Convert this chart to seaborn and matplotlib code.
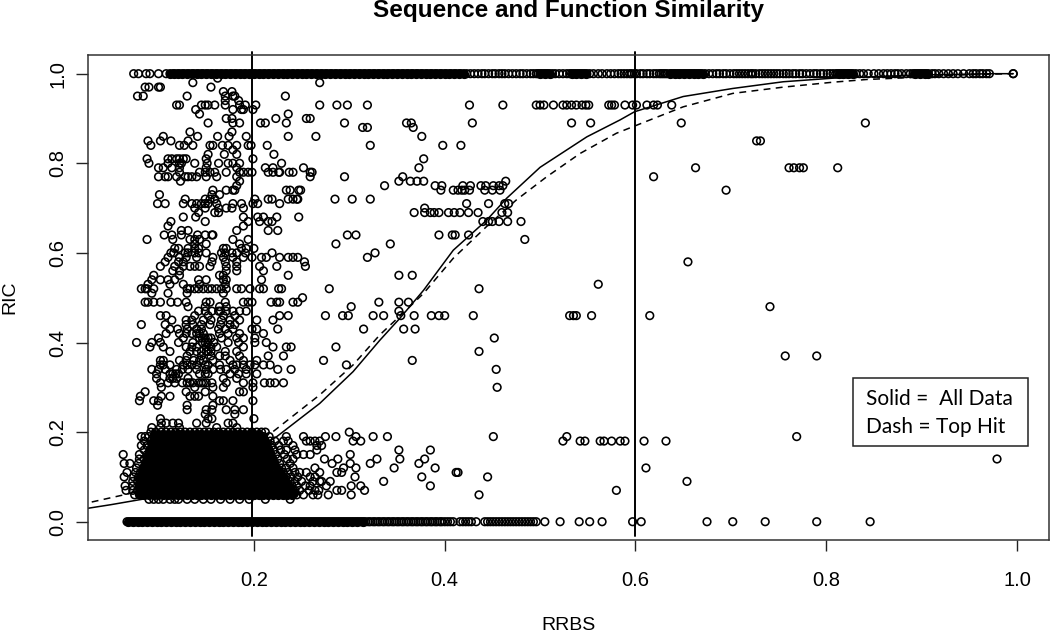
#!/usr/bin/env python3
import matplotlib
matplotlib.use("Agg")
import matplotlib.pyplot as plt
import pandas as pd
import seaborn as sns
from matplotlib.patches import Rectangle

# RRBS values in thousandths, one list per RIC level (ric_93 -> RIC 0.93)
ric_100 = [74,79,87,91,100,108,112,115,117,120,122,125,127,130,132,135,137,140,142,145,147,150,152,155,157,160,162,165,167,170,172,175,177,180,182,185,187,190,192,195,197,200,202,205,207,210,212,215,217,220,222,225,227,230,232,235,237,240,242,245,247,250,252,255,257,260,262,265,267,270,272,275,277,280,282,285,287,290,292,295,297,300,302,305,307,310,312,315,317,320,322,325,327,330,332,335,337,340,342,345,347,350,352,355,357,360,362,365,367,370,372,375,377,380,382,385,387,390,392,395,397,400,402,405,407,410,412,415,417,420,
           423,427,431,435,439,442,446,450,453,457,460,463,467,471,475,479,482,486,490,493,496,498,500,502,504,506,508,510,513,516,520,524,528,531,533,535,537,539,541,543,545,547,549,552,556,561,565,570,574,578,582,585,588,591,594,596,599,601,605,608,612,615,619,622,625,627,629,631,633,636,638,640,642,644,646,648,650,652,654,656,658,660,662,664,666,668,670,673,677,681,685,688,692,695,699,703,706,709,712,715,718,721,723,726,730,733,736,739,742,745,748,751,755,758,761,765,768,772,775,779,783,787,790,794,797,801,804,807,810,812,814,816,818,820,822,824,826,828,831,835,839,844,850,855,860,864,868,872,875,879,884,888,891,893,895,897,899,901,903,905,907,911,914,918,923,928,933,938,944,950,954,957,961,964,968,971,996,996]
ric_99 = [162]
ric_98 = [136,269]
ric_97 = [86,90,100,102,155]
ric_96 = [168,177]
ric_95 = [78,84,130,170,178,180,233]
ric_94 = [170,184]
ric_93 = [119,122,145,149,152,159,170,185,191,202,269,287,298,319,426,461,496,500,504,514,524,528,533,538,544,548,551,572,575,578,589,597,601,612,619,623,638]
ric_92 = [139,178,187,189,199]
ric_91 = [143,236]
ric_90 = [171,177,223,255,259]
ric_89 = [152,178,185,207,212,234,295,360,365,429,533,553,648,841]
ric_88 = [314,319,367]
ric_87 = [133,177]
ric_86 = [105,141,162,174,192,236,265,376]
ric_85 = [89,102,113,131,727,731]
ric_84 = [92,122,127,136,154,157,167,173,182,194,197,214,322,398,417]
ric_83 = [178]
ric_82 = [152,169,182,221]
ric_81 = [88,110,114,119,122,126,129,150,199,378]
ric_80 = [90,110,122,124,138,151,163,173,178,185,229]
ric_79 = [100,105,114,122,150,182,212,220,252,373,663,761,766,772,776,812]
ric_78 = [122,143,149,154,159,171,185,189,194,198,215,220,226,227,237,241,259,261]
ric_77 = [100,107,110,119,128,131,135,140,150,161,182,259,295,356,619]
ric_76 = [123,185,352,364,371,378,464]
ric_75 = [182,337,390,397,419,427,438,443,451,457,461]
ric_74 = [157,171,178,180,234,238,247,249,396,409,414,418,421,426,442,450,458,695]
ric_73 = [101,156,164]
ric_72 = [128,149,154,159,201,215,219,236,241,245,246,285,303,322]
ric_71 = [99,107,126,135,140,145,149,152,161,178,187,199,204,227,423,446,463,467]
ric_70 = [138,149,163,171,177,189,379]
ric_69 = [142,159,163,368,379,385,389,394,404,410,416,425,435,460,466]
ric_68 = [126,139,189,204,210,224,247]
ric_67 = [113,149,194,206,215,219,440,446,450,457,466,480]
ric_66 = [110,189]
ric_65 = [124,131,182,215,225]
ric_64 = [106,114,124,141,149,156,157,298,307,394,408,411,425]
ric_63 = [88,115,133,138,143,178,194,484]
ric_62 = [138,150,185,286,343]
ric_61 = [117,121,131,138,142,168,171,187,192,200]
ric_60 = [113,116,128,131,138,142,150,166,170,177,182,191,219,327]
ric_59 = [110,122,129,140,157,168,178,189,198,208,213,227,236,241,246,319]
ric_58 = [107,121,126,156,170,182,253,655]
ric_57 = [102,117,126,133,138,143,154,171,182,206,224,254]
ric_56 = [115,122,171,182,210]
ric_55 = [95,122,164,168,236,352,366]
ric_54 = [93,102,110,117,142,150,168,171,208]
ric_53 = [89,112,126,143,170,561]
ric_52 = [82,86,88,95,130,133,138,142,147,152,156,161,166,171,182,187,196,206,210,226,229,279,436]
ric_51 = [93,110,130,168]
ric_50 = [251]
ric_49 = [86,89,95,102,113,120,129,150,154,170,189,194,198,218,224,227,241,246,331,352,362]
ric_48 = [131,149,164,171,302,741]
ric_47 = [142,149,156,163,165,171,178,185,192,352]
ric_46 = [102,108,138,152,168,180,227,236,275,293,299,325,336,354,368,386,394,400,430,531,535,538,554,615]
ric_45 = [114,129,135,147,155,166,175,185,203,220]
ric_44 = [82,107,129,136,145,154,165,175,180]
ric_43 = [112,120,130,140,145,163,170,178,198,203,225,315,357,369]
ric_42 = [108,122,129,135,140,143,147,164,173,185,210]
ric_41 = [100,126,143,146,149,152,155,166,182,189,201,452]
ric_40 = [77,93,102,121,136,146,149,152,158,173,184,201,213]
ric_39 = [91,105,129,135,140,150,155,161,189,220,234,239,286]
ric_38 = [112,133,140,145,150,152,155,170,182,436]
ric_37 = [130,145,155,164,170,185,215,231,757,790]
ric_36 = [102,105,122,129,137,143,147,157,175,189,203,273,366]
ric_35 = [102,105,112,126,130,135,140,149,152,164,178,182,189,196,201,210,217,297]
ric_34 = [93,100,107,119,125,131,140,150,157,165,171,180,192,225,239,454]
ric_33 = [98,112,115,118,121,143,149,152,175,184,192,203]
ric_32 = [98,112,115,119,131,168,182]
ric_31 = [102,110,117,125,130,133,136,142,145,147,150,156,171,189,199,211,217,222,231]
ric_30 = [103,138,157,168,199,455]
ric_29 = [86,129,149,185,189]
ric_28 = [81,103,112,133,138,142,157]
ric_27 = [80,95,100,164,168,178,199]
ric_26 = [99,130,157]
ric_25 = [130,150,156,171,180,189]
ric_24 = [149,180]
ric_23 = [102,152,156,200]
ric_22 = [103,108,115,121,140,150,173,178]
ric_21 = [93,102,122,161,182]
ric_20 = [92,97,103,108,113,118,123,128,133,138,143,148,153,158,163,168,173,178,183,188,193,198,203,208,212,300]
ric_19 = [82,86,90,95,100,105,110,115,120,125,130,135,140,145,150,155,160,165,170,175,180,185,190,195,200,205,210,216,234,252,275,286,307,325,340,451,528,769]
ric_18 = [85,92,97,102,107,112,117,122,127,132,137,142,147,152,157,162,167,172,177,182,187,192,197,202,207,212,217,222,231,236,255,259,264,269,304,312,524,542,547,563,567,575,584,589,609,632]
ric_17 = [82,88,94,99,104,109,114,119,124,129,134,139,144,149,154,159,164,169,174,179,184,189,194,199,204,209,214,219,226,241,266,271]
ric_16 = [85,91,96,101,106,111,116,121,126,131,136,141,146,151,156,161,166,171,176,181,186,191,196,201,206,211,216,221,228,234,243,266,352,385]
ric_15 = [63,80,88,93,98,103,108,113,118,123,128,133,138,143,148,153,158,163,168,173,178,183,188,193,198,203,208,213,218,223,232,245,252,259,301]
ric_14 = [80,85,90,95,100,105,110,115,120,125,130,135,140,145,150,155,160,165,170,175,180,185,190,195,200,205,210,215,220,225,235,241,274,288,329,353,379,979]
ric_13 = [64,70,79,87,92,97,102,107,112,117,122,127,132,137,142,147,152,157,162,167,172,177,182,187,192,197,202,207,212,217,222,227,238,282,301,322,373]
ric_12 = [77,84,89,94,99,104,109,114,119,124,129,134,139,144,149,154,159,164,169,174,179,184,189,194,199,204,209,214,219,224,229,234,241,264,294,307,347,390,611]
ric_11 = [67,76,81,86,91,96,101,106,111,116,121,126,131,136,141,146,151,156,161,166,171,176,181,186,191,196,201,206,211,216,221,226,231,236,243,248,255,269,287,292,412,414]
ric_10 = [64,74,79,84,89,94,99,104,109,114,119,124,129,134,139,144,149,154,159,164,169,174,179,184,189,194,199,204,209,214,219,224,229,234,239,246,259,264,306,376,445]
ric_09 = [73,78,83,88,93,98,103,108,113,118,123,128,133,138,143,148,153,158,163,168,173,178,183,188,193,198,203,208,213,218,223,228,233,238,243,250,262,269,271,280,336,654]
ric_08 = [65,73,80,85,90,95,100,105,110,115,120,125,130,135,140,145,150,155,160,165,170,175,180,185,190,195,200,205,210,215,220,225,230,235,240,245,254,259,276,302,312,385]
ric_07 = [66,73,78,83,88,93,98,103,108,113,118,123,128,133,138,143,148,153,158,163,168,173,178,183,188,193,198,203,208,213,218,223,228,233,238,243,248,258,264,268,287,292,316,580]
ric_06 = [75,80,85,90,95,100,105,110,115,120,125,130,135,140,145,150,155,160,165,170,175,180,185,190,195,200,205,210,215,220,225,230,235,240,245,252,262,267,278,302,436]
ric_05 = [90,95,100,105,112,117,121,130,138,147,155,165,175,185,195,212,238]
ric_00 = [67,69,71,73,75,77,79,81,83,85,87,89,91,93,95,97,99,101,103,105,107,109,111,113,115,117,119,121,123,125,127,129,131,133,135,137,139,141,143,145,147,149,151,153,155,157,159,161,163,165,167,169,171,173,175,177,179,181,183,185,187,189,191,193,195,197,199,201,203,205,207,209,211,213,215,217,219,221,223,225,227,229,231,233,235,237,239,241,243,245,247,249,251,253,255,257,259,261,263,265,267,269,271,273,275,277,279,281,283,285,287,289,291,293,295,297,299,301,303,305,307,309,311,313,315,
          317,320,322,325,327,330,332,335,337,340,342,345,347,350,352,355,357,360,362,365,367,370,372,375,377,380,382,385,387,390,392,395,397,400,403,406,409,416,419,422,425,428,433,442,445,448,451,454,457,460,463,466,469,472,475,478,481,484,487,490,493,496,505,521,541,552,565,597,606,675,702,736,790,846]

# heavily overplotted stretches that print solid black (dense_195 -> RIC 0.195)
dense_1000 = [112,116,120,125,130,135,140,145,150,155,160,165,170,175,180,185,190,195,200,205,210,215,220,225,230,235,240,245,250,255,260,265,270,275,280,285,290,295,300,305,310,315,320,325,330,335,340,345,350,355,360,365,370,375,380,385,390,395,400,405,410,415,420,500,505,510,533,538,543,548,636,641,646,651,656,661,666,671,813,818,823,828,893,898,903,907]
dense_000 = [68,73,78,83,88,93,98,103,108,113,118,123,128,133,138,143,148,153,158,163,168,173,178,183,188,193,198,203,208,213,218,223,228,233,238,243,248,253,258,263,268,273,278,283,288,293,298,303,308,314]
dense_195 = [95,100,105,110,115,120,125,130,135,140,145,150,155,160,165,170,175,180,185,190,195,200,205]
dense_185 = [95,100,105,110,115,120,125,130,135,140,145,150,155,160,165,170,175,180,185,190,195,200,205,210]
dense_175 = [92,97,102,107,112,117,122,127,132,137,142,147,152,157,162,167,172,177,182,187,192,197,202,207,212]
dense_165 = [92,97,102,107,112,117,122,127,132,137,142,147,152,157,162,167,172,177,182,187,192,197,202,207,214]
dense_155 = [90,95,100,105,110,115,120,125,130,135,140,145,150,155,160,165,170,175,180,185,190,195,200,205,210,216]
dense_145 = [88,94,100,105,110,115,120,125,130,135,140,145,150,155,160,165,170,175,180,185,190,195,200,205,210,218]
dense_135 = [87,92,97,102,107,112,117,122,127,132,137,142,147,152,157,162,167,172,177,182,187,192,197,202,207,212,220]
dense_125 = [85,90,95,100,105,110,115,120,125,130,135,140,145,150,155,160,165,170,175,180,185,190,195,200,205,210,215,222]
dense_115 = [84,90,95,100,105,110,115,120,125,130,135,140,145,150,155,160,165,170,175,180,185,190,195,200,205,210,215,225]
dense_105 = [82,87,92,97,102,107,112,117,122,127,132,137,142,147,152,157,162,167,172,177,182,187,192,197,202,207,212,217,222,228]
dense_095 = [80,85,90,95,100,105,110,115,120,125,130,135,140,145,150,155,160,165,170,175,180,185,190,195,200,205,210,215,220,225,232]
dense_085 = [80,85,90,95,100,105,110,115,120,125,130,135,140,145,150,155,160,165,170,175,180,185,190,195,200,205,210,215,220,225,235]
dense_075 = [80,85,90,95,100,105,110,115,120,125,130,135,140,145,150,155,160,165,170,175,180,185,190,195,200,205,210,215,220,225,230,238]
dense_065 = [80,85,90,95,100,105,110,115,120,125,130,135,140,145,150,155,160,165,170,175,180,185,190,195,200,205,210,215,220,225,230,236,242]
dense_060 = [85,90,95,100,105,110,115,120,125,130,135,140,145,150,155,160,165,170,175,180,185,190,195,200,205,210,215,220,225,230,235,240]

# smoothed curves through the data
solid_x = [0.026,0.050,0.088,0.130,0.180,0.224,0.269,0.304,0.332,0.353,0.378,0.409,0.444,0.465,0.500,0.549,0.584,0.599,0.650,0.702,0.755,0.807,0.898,0.975,0.996]
solid_y = [0.030,0.038,0.052,0.078,0.130,0.190,0.264,0.335,0.405,0.454,0.517,0.606,0.673,0.722,0.791,0.859,0.897,0.915,0.949,0.967,0.982,0.990,0.997,1.000,1.000]
dash_x = [0.030,0.070,0.120,0.170,0.220,0.269,0.304,0.332,0.360,0.378,0.409,0.444,0.475,0.507,0.542,0.580,0.619,0.650,0.702,0.755,0.807,0.842,0.874,0.950,0.996]
dash_y = [0.044,0.063,0.100,0.150,0.201,0.283,0.350,0.417,0.473,0.510,0.588,0.659,0.718,0.770,0.822,0.867,0.900,0.926,0.956,0.970,0.981,0.987,0.990,0.998,1.000]

x_ticks = [0.2, 0.4, 0.6, 0.8, 1.0]
y_ticks = [0.0, 0.2, 0.4, 0.6, 0.8, 1.0]
cutoffs = [0.198, 0.5995]

sns.set_theme(style="white")
plt.rcParams["font.family"] = ["Liberation Sans", "DejaVu Sans"]
plt.rcParams["text.color"] = "black"
plt.rcParams["axes.labelcolor"] = "black"
plt.rcParams["xtick.color"] = "black"
plt.rcParams["ytick.color"] = "black"

rows = []
solid_rows = []
for name, vals in list(globals().items()):
    if name.startswith("ric_"):
        rows += [(v / 1000, int(name[4:]) / 100) for v in vals]
    elif name.startswith("dense_"):
        solid_rows += [(v / 1000, int(name[6:]) / 1000) for v in vals]
df = pd.DataFrame(rows, columns=["RRBS", "RIC"])
df_solid = pd.DataFrame(solid_rows, columns=["RRBS", "RIC"])

W, H = 1050, 633
fig = plt.figure(figsize=(W / 100, H / 100), dpi=100)
ax = fig.add_axes([88 / W, 1 - 540 / H, 961 / W, 485 / H])

sns.scatterplot(data=df_solid, x="RRBS", y="RIC", marker="o", s=30, color="black",
                edgecolor="black", linewidth=1.15, ax=ax)
sns.scatterplot(data=df, x="RRBS", y="RIC", marker="o", s=30, facecolor="none",
                edgecolor="black", linewidth=1.15, ax=ax)
sns.lineplot(x=solid_x, y=solid_y, color="black", linewidth=1.1, sort=False, estimator=None, ax=ax)
sns.lineplot(x=dash_x, y=dash_y, color="black", linewidth=1.1, linestyle=(0, (4.5, 3.5)), sort=False, estimator=None, ax=ax)

for c in cutoffs:
    ax.plot([c, c], [-0.032, 1.049], color="black", linewidth=1.4, clip_on=False)

ax.set_xlim(0.0261, 1.0335)
ax.set_ylim(-0.0408, 1.0417)
ax.set_xticks(x_ticks)
ax.set_yticks(y_ticks)
ax.set_xticklabels([f"{t:.1f}" for t in x_ticks], fontsize=14.5)
ax.set_yticklabels([f"{t:.1f}" for t in y_ticks], fontsize=14.5, rotation=90, va="center")
ax.tick_params(axis="x", length=8, width=1, color="#222222", pad=14.5, bottom=True)
ax.tick_params(axis="y", length=8.6, width=1, color="#222222", pad=6.5, left=True)
for s in ax.spines.values():
    s.set_linewidth(1.1)
    s.set_color("#333333")

ax.set_xlabel("RRBS", fontsize=14, va="center")
ax.set_ylabel("RIC", fontsize=14, va="center")
ax.xaxis.set_label_coords(0.5, -85 / 485)
ax.yaxis.set_label_coords(-78 / 961, 0.5)
ax.set_title("Sequence and Function Similarity", fontsize=17.5, fontweight="bold",
             y=530 / 485, va="center", pad=0)

fig.add_artist(Rectangle((853 / W, 1 - 446 / H), 175 / W, 68 / H, transform=fig.transFigure,
                         facecolor="white", edgecolor="#222222", linewidth=1.1, zorder=5))
fig.text(866 / W, 1 - 399 / H, "Solid =  All Data", fontsize=15, family="Lato", va="center", zorder=6)
fig.text(866 / W, 1 - 427 / H, "Dash = Top Hit", fontsize=15, family="Lato", va="center", zorder=6)

fig.savefig("out.png", dpi=100)
plt.close(fig)
